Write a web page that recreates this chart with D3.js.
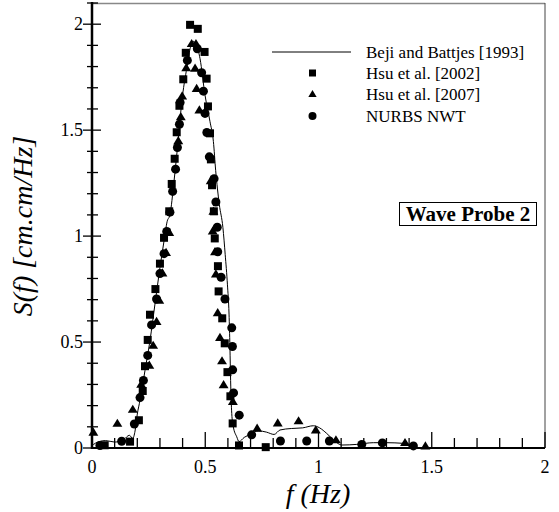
<!DOCTYPE html>
<html><head><meta charset="utf-8">
<script src="https://cdn.jsdelivr.net/npm/d3@7"></script>
<style>body{margin:0;background:#fff}svg{display:block}</style>
</head><body><svg id="c" width="559" height="512" font-family="'Liberation Serif', 'Times New Roman', Times, 'DejaVu Serif', serif"></svg>
<script>
// Beji and Battjes [1993] (line)
const lineF = [0.00,0.03,0.06,0.10,0.14,0.165,0.18,0.19,0.20,0.212,0.234,0.256,0.278,0.300,0.318,0.332,0.344,0.362,0.377,0.389,0.400,0.418,0.433,0.447,0.460,0.477,0.499,0.521,0.536,0.546,0.562,0.578,0.588,0.598,0.605,0.609,0.612,0.617,0.624,0.639,0.649,0.672,0.702,0.734,0.770,0.804,0.830,0.880,0.930,0.977,1.005,1.036,1.070,1.102,1.169,1.242,1.301,1.374,1.420];
const lineS = [0.012,0.030,0.035,0.028,0.040,0.060,0.045,0.080,0.160,0.225,0.366,0.507,0.679,0.851,0.977,1.070,1.100,1.258,1.415,1.555,1.665,1.790,1.884,1.919,1.905,1.837,1.665,1.540,1.446,1.310,1.150,1.040,0.914,0.770,0.632,0.476,0.319,0.163,0.100,0.053,0.030,0.050,0.066,0.081,0.075,0.064,0.085,0.092,0.095,0.105,0.095,0.069,0.035,0.014,0.017,0.025,0.025,0.022,0.012];
// Hsu et al. [2002] (squares)
const sqF = [0.056,0.168,0.207,0.224,0.234,0.246,0.256,0.280,0.300,0.318,0.341,0.352,0.365,0.374,0.386,0.403,0.414,0.433,0.467,0.497,0.506,0.512,0.521,0.525,0.530,0.538,0.542,0.556,0.559,0.575,0.586,0.598,0.611,0.621,0.649,0.767];
const sqS = [0.013,0.030,0.131,0.269,0.386,0.510,0.629,0.750,0.870,0.992,1.117,1.246,1.365,1.490,1.615,1.740,1.865,1.997,1.978,1.869,1.743,1.612,1.485,1.362,1.240,1.117,0.989,0.858,0.739,0.612,0.494,0.358,0.244,0.116,0.012,0.004];
// Hsu et al. [2007] (triangles)
const trF = [0.006,0.112,0.180,0.217,0.253,0.270,0.285,0.297,0.311,0.327,0.341,0.381,0.392,0.398,0.416,0.440,0.459,0.455,0.462,0.474,0.524,0.536,0.533,0.543,0.547,0.555,0.565,0.574,0.581,0.622,0.729,0.820,0.912,0.988,1.077,1.382,1.472];
const trS = [0.074,0.116,0.182,0.300,0.390,0.484,0.597,0.697,0.826,0.922,1.017,1.450,1.563,1.661,1.794,1.908,1.908,1.792,1.696,1.595,1.261,1.117,1.024,0.926,0.821,0.638,0.521,0.411,0.298,0.219,0.093,0.118,0.128,0.085,0.038,0.025,0.009];
// NURBS NWT (circles)
const ciF = [0.035,0.131,0.187,0.212,0.227,0.246,0.263,0.285,0.300,0.318,0.330,0.344,0.356,0.369,0.377,0.386,0.389,0.421,0.465,0.484,0.492,0.499,0.507,0.518,0.539,0.547,0.553,0.555,0.570,0.587,0.617,0.620,0.621,0.625,0.650,0.705,0.832,0.948,1.048,1.191,1.282,1.419];
const ciS = [0.012,0.032,0.113,0.238,0.319,0.437,0.581,0.703,0.823,0.917,1.022,1.113,1.211,1.316,1.418,1.528,1.631,1.829,1.884,1.771,1.684,1.579,1.489,1.374,1.271,1.161,1.042,0.926,0.806,0.703,0.567,0.479,0.369,0.260,0.155,0.062,0.033,0.033,0.033,0.017,0.024,0.010];
const xTicks = [0,0.5,1,1.5,2];
const yTicks = [0,0.5,1,1.5,2];
const legendLabels = ["Beji and Battjes [1993]","Hsu et al. [2002]","Hsu et al. [2007]","NURBS NWT"];

const svg = d3.select("#c");
const L=92, R=545, T=3, B=448;
const x = d3.scaleLinear().domain([0,2]).range([L,R]);
const y = d3.scaleLinear().domain([0,2.1]).range([B,T]);

// frame top/right
svg.append("line").attr("x1",L).attr("x2",R).attr("y1",T+0.5).attr("y2",T+0.5).attr("stroke","#888").attr("stroke-width",1.5);
svg.append("line").attr("x1",R).attr("x2",R).attr("y1",T).attr("y2",B).attr("stroke","#444").attr("stroke-width",1);

// x ticks (inward)
const xMinor = d3.range(0,2.0001,0.1);
const gx = svg.append("g");
xMinor.forEach(v=>{
  const major = Math.abs(v*2-Math.round(v*2))<1e-6;
  gx.append("line").attr("x1",x(v)).attr("x2",x(v)).attr("y1",B).attr("y2",B-(major?16:10)).attr("stroke","#000").attr("stroke-width",1.3);
});
xTicks.forEach(v=>{
  gx.append("text").attr("x",x(v)).attr("y",B+25).attr("text-anchor","middle").attr("font-size",18).text(d3.format("")(v));
});
// y ticks (crossing)
const yMinor = d3.range(0,2.1001,0.1);
const gy = svg.append("g");
yMinor.forEach(v=>{
  const major = Math.abs(v*2-Math.round(v*2))<1e-6;
  gy.append("line").attr("x1",L-(major?9:5)).attr("x2",L+(major?9:6)).attr("y1",y(v)).attr("y2",y(v)).attr("stroke","#000").attr("stroke-width",1.3);
});
yTicks.forEach(v=>{
  gy.append("text").attr("x",L-9).attr("y",y(v)+6).attr("text-anchor","end").attr("font-size",18).text(d3.format("")(v));
});
// axes lines
svg.append("line").attr("x1",L).attr("x2",R).attr("y1",B).attr("y2",B).attr("stroke","#000").attr("stroke-width",2);
svg.append("line").attr("x1",L).attr("x2",L).attr("y1",T-1).attr("y2",B+1).attr("stroke","#000").attr("stroke-width",2.5);

// axis titles
svg.append("text").attr("x",318).attr("y",503).attr("text-anchor","middle").attr("font-size",28).attr("font-style","italic").text("f (Hz)");
svg.append("text").attr("transform","translate(32,226) rotate(-90)").attr("text-anchor","middle").attr("font-size",28).attr("font-style","italic").text("S(f) [cm.cm/Hz]");

// line
const lineData = lineF.map((f,i)=>[f,lineS[i]]);
svg.append("path").datum(lineData).attr("fill","none").attr("stroke","#000").attr("stroke-width",1)
  .attr("d",d3.line().x(d=>x(d[0])).y(d=>y(d[1])).curve(d3.curveMonotoneX));

const tri = (cx,cy,s)=>`M${cx},${cy-s*0.5}L${cx+s*0.52},${cy+s*0.36}L${cx-s*0.52},${cy+s*0.36}Z`;
// squares
svg.append("g").selectAll("rect").data(sqF.map((f,i)=>[f,sqS[i]])).join("rect")
  .attr("x",d=>x(d[0])-4).attr("y",d=>y(d[1])-4).attr("width",8).attr("height",8).attr("fill","#000");
// triangles
svg.append("g").selectAll("path").data(trF.map((f,i)=>[f,trS[i]])).join("path")
  .attr("d",d=>tri(x(d[0]),y(d[1]),9.5)).attr("fill","#000");
// circles
svg.append("g").selectAll("circle").data(ciF.map((f,i)=>[f,ciS[i]])).join("circle")
  .attr("cx",d=>x(d[0])).attr("cy",d=>y(d[1])).attr("r",4.5).attr("fill","#000");

// legend
const lg = svg.append("g");
const rowsY = [52,73,94,116];
lg.append("line").attr("x1",272).attr("x2",351).attr("y1",rowsY[0]).attr("y2",rowsY[0]).attr("stroke","#000").attr("stroke-width",1);
lg.append("rect").attr("x",309).attr("y",rowsY[1]-3.5).attr("width",7).attr("height",7).attr("fill","#000");
lg.append("path").attr("d",tri(312.5,rowsY[2],8)).attr("fill","#000");
lg.append("circle").attr("cx",312.5).attr("cy",rowsY[3]).attr("r",4).attr("fill","#000");
legendLabels.forEach((t,i)=>{
  lg.append("text").attr("x",366).attr("y",rowsY[i]+6).attr("font-size",17).text(t);
});

// Wave Probe 2 box
svg.append("rect").attr("x",399.5).attr("y",202.5).attr("width",137).attr("height",23).attr("fill","#fff").attr("stroke","#000").attr("stroke-width",1);
svg.append("text").attr("x",468).attr("y",221).attr("text-anchor","middle").attr("font-size",21).attr("font-weight","bold").text("Wave Probe 2");
</script></body></html>
